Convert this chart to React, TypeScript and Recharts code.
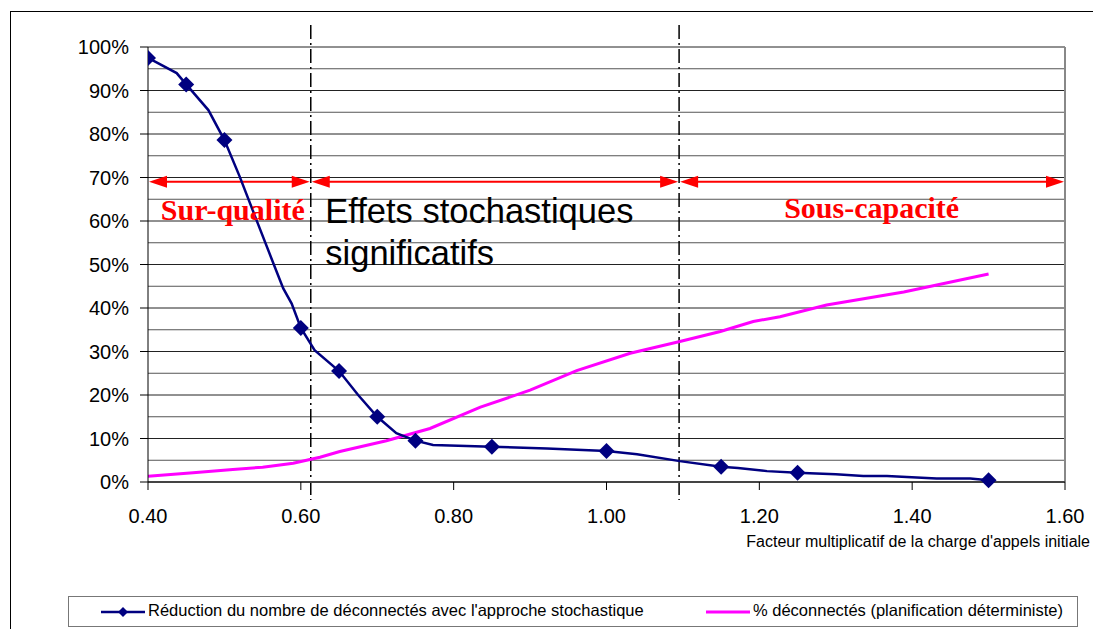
import React from 'react'
import {
  LineChart,
  Line,
  XAxis,
  YAxis,
  ReferenceLine,
  ReferenceDot,
} from 'recharts'

// stochastic reduction curve (navy), markers only on measured points
const blueX = [0.4, 0.4375, 0.45, 0.479, 0.5, 0.52, 0.542, 0.564, 0.577, 0.588, 0.6, 0.618, 0.65, 0.675, 0.7, 0.725, 0.75, 0.773, 0.85, 0.922, 1.0, 1.04, 1.096, 1.15, 1.172, 1.21, 1.25, 1.266, 1.3, 1.336, 1.367, 1.432, 1.476, 1.5]
const blueY = [97.5, 94, 91.4, 85.5, 78.6, 70.2, 60.2, 50.3, 44.5, 41, 35.4, 30.3, 25.5, 20, 15, 11.2, 9.5, 8.5, 8.1, 7.7, 7.1, 6.4, 4.8, 3.5, 3.2, 2.5, 2.1, 2.0, 1.8, 1.4, 1.4, 0.8, 0.8, 0.4]
const markedX = [0.4, 0.45, 0.5, 0.6, 0.65, 0.7, 0.75, 0.85, 1.0, 1.15, 1.25, 1.5]

// deterministic planning curve (magenta)
const magX = [0.4, 0.459, 0.511, 0.55, 0.59, 0.625, 0.651, 0.712, 0.769, 0.835, 0.9, 0.961, 1.031, 1.096, 1.149, 1.192, 1.227, 1.288, 1.389, 1.5]
const magY = [1.3, 2.1, 2.9, 3.4, 4.3, 5.7, 7.0, 9.5, 12.3, 17.2, 21.1, 25.6, 29.6, 32.3, 34.6, 36.9, 38.0, 40.7, 43.7, 47.8]

const xTicks = [0.4, 0.6, 0.8, 1.0, 1.2, 1.4, 1.6]
const yTicks = [0, 10, 20, 30, 40, 50, 60, 70, 80, 90, 100]
const gridValues = [5, 10, 15, 20, 25, 30, 35, 40, 45, 50, 55, 60, 65, 70, 75, 80, 85, 90, 95, 100]

// zone boundaries and the arrow level
const zoneBounds = [0.4, 0.613, 1.095, 1.6]
const arrowLevel = 69

const blueData = blueX.map((x, i) => ({ x, y: blueY[i], m: markedX.includes(x) }))
const magData = magX.map((x, i) => ({ x, y: magY[i] }))

const NAVY = '#000080'
const MAGENTA = '#ff00ff'
const RED = '#ff0000'
const SANS = 'Arial, "Liberation Sans", sans-serif'
const SERIF = '"Times New Roman", "Liberation Serif", serif'

function Diamond(props: any) {
  const { cx, cy, payload, index } = props
  if (!payload?.m) return <g key={`d-${index}`} />
  const s = 8
  return (
    <polygon
      key={`d-${index}`}
      points={`${cx},${cy - s} ${cx + s},${cy} ${cx},${cy + s} ${cx - s},${cy}`}
      fill={NAVY}
    />
  )
}

function DashDot(props: any) {
  const { x1, y1, x2, y2 } = props
  const top = Math.min(y1, y2) - 22
  const bottom = Math.max(y1, y2) + 18
  return <line x1={x1} x2={x2} y1={top} y2={bottom} stroke="#000" strokeWidth={1.5} strokeDasharray="14 4 2 4" />
}

function Arrow(props: any) {
  const { x1, y1, x2 } = props
  const a = Math.min(x1, x2)
  const b = Math.max(x1, x2)
  const y = y1
  const L = 19
  const h = 6
  return (
    <g>
      <line x1={a + 8} x2={b - 8} y1={y} y2={y} stroke={RED} strokeWidth={2} />
      <polygon points={`${a + 1},${y} ${a + L},${y - h} ${a + L},${y + h}`} fill={RED} />
      <polygon points={`${b - 1},${y} ${b - L},${y - h} ${b - L},${y + h}`} fill={RED} />
    </g>
  )
}

function textShape(lines: string[], opts: { anchor: 'start' | 'middle'; font: string; size: number; weight: string; color: string; gap?: number }) {
  return (p: any) => (
    <text
      x={p.cx}
      y={p.cy}
      textAnchor={opts.anchor}
      fontFamily={opts.font}
      fontSize={opts.size}
      fontWeight={opts.weight}
      fill={opts.color}
    >
      {lines.map((t, i) => (
        <tspan key={t} x={p.cx} dy={i === 0 ? 0 : opts.gap}>
          {t}
        </tspan>
      ))}
    </text>
  )
}

export default function App() {
  return (
    <div style={{ position: 'absolute', left: 0, top: 0, width: 1093, height: 629, overflow: 'hidden', background: '#fff', fontFamily: SANS }}>
      <div style={{ position: 'absolute', left: 10, top: 11, width: 1200, height: 700, border: '1px solid #000' }} />
      <div style={{ position: 'absolute', left: 0, top: 0 }}>
        <LineChart width={1093} height={629} margin={{ top: 47, right: 28, left: 0, bottom: 107 }}>
          <XAxis
            type="number"
            dataKey="x"
            domain={[0.4, 1.6]}
            ticks={xTicks}
            tickFormatter={(v: number) => v.toFixed(2)}
            allowDataOverflow
            height={40}
            tickSize={8}
            tickMargin={19}
            stroke="#000"
            tick={{ fill: '#000', fontSize: 20, fontFamily: SANS }}
            axisLine={{ stroke: '#444', strokeWidth: 2 }}
            label={{
              value: "Facteur multiplicatif de la charge d'appels initiale",
              position: 'insideBottomRight',
              offset: -25,
              fill: '#000',
              fontSize: 16,
              fontFamily: SANS,
            }}
          />
          <YAxis
            type="number"
            domain={[0, 100]}
            ticks={yTicks}
            tickFormatter={(v: number) => `${v}%`}
            width={148}
            tickSize={8}
            tickMargin={11}
            stroke="#000"
            tick={{ fill: '#000', fontSize: 20, fontFamily: SANS }}
          />
          {gridValues.map((v) => (
            <ReferenceLine key={`g-${v}`} y={v} stroke={v % 10 === 0 ? '#222' : '#555'} strokeWidth={1} />
          ))}
          <ReferenceLine x={1.6} stroke="#888" strokeWidth={2} />
          <ReferenceLine x={zoneBounds[1]} shape={DashDot} />
          <ReferenceLine x={zoneBounds[2]} shape={DashDot} />
          {zoneBounds.slice(0, 3).map((b, i) => (
            <ReferenceLine
              key={`a-${i}`}
              segment={[{ x: b, y: arrowLevel }, { x: zoneBounds[i + 1], y: arrowLevel }]}
              shape={Arrow}
            />
          ))}
          <ReferenceDot
            x={0.511}
            y={60.2}
            r={0}
            shape={textShape(['Sur-qualité'], { anchor: 'middle', font: SERIF, size: 30, weight: 'bold', color: RED })}
          />
          <ReferenceDot
            x={1.347}
            y={60.7}
            r={0}
            shape={textShape(['Sous-capacité'], { anchor: 'middle', font: SERIF, size: 30, weight: 'bold', color: RED })}
          />
          <ReferenceDot
            x={0.632}
            y={59.5}
            r={0}
            shape={textShape(['Effets stochastiques', 'significatifs'], { anchor: 'start', font: SANS, size: 34.5, weight: 'normal', color: '#000', gap: 42 })}
          />
          <Line
            data={magData}
            dataKey="y"
            type="linear"
            stroke={MAGENTA}
            strokeWidth={3}
            dot={false}
            isAnimationActive={false}
          />
          <Line
            data={blueData}
            dataKey="y"
            type="linear"
            stroke={NAVY}
            strokeWidth={2.5}
            dot={Diamond}
            activeDot={false}
            isAnimationActive={false}
          />
        </LineChart>
      </div>
      <div
        style={{
          position: 'absolute',
          left: 68,
          top: 596,
          width: 1010,
          height: 31,
          border: '1px solid #777',
          boxSizing: 'border-box',
          fontSize: 16.5,
          color: '#000',
        }}
      >
        <svg width={44} height={12} style={{ position: 'absolute', left: 32, top: 9 }}>
          <line x1={0} x2={44} y1={6} y2={6} stroke={NAVY} strokeWidth={2.5} />
          <polygon points="22,1 27,6 22,11 17,6" fill={NAVY} />
        </svg>
        <span style={{ position: 'absolute', left: 79, top: 4, whiteSpace: 'nowrap' }}>
          Réduction du nombre de déconnectés avec l'approche stochastique
        </span>
        <svg width={44} height={12} style={{ position: 'absolute', left: 637, top: 9 }}>
          <line x1={0} x2={44} y1={6} y2={6} stroke={MAGENTA} strokeWidth={3} />
        </svg>
        <span style={{ position: 'absolute', left: 684, top: 4, whiteSpace: 'nowrap' }}>
          % déconnectés (planification déterministe)
        </span>
      </div>
    </div>
  )
}
